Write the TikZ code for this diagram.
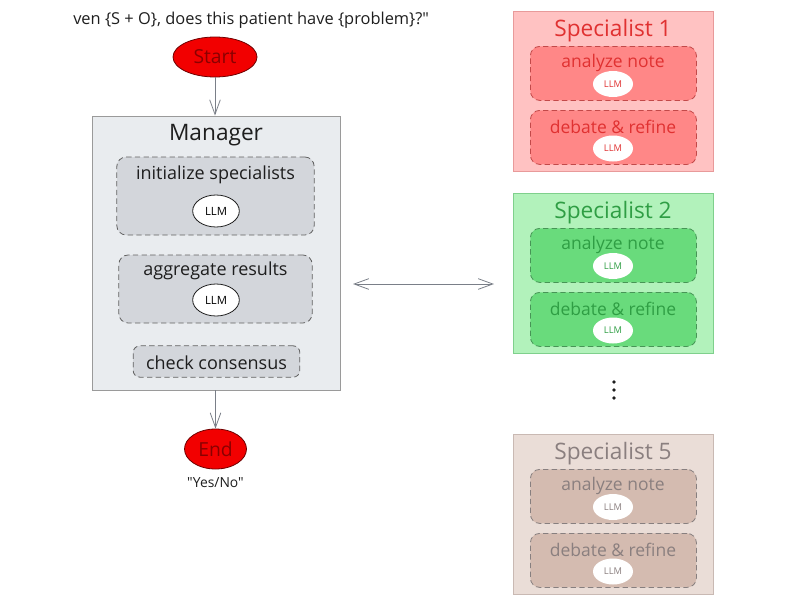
\documentclass[tikz,border=0pt]{standalone}
\usepackage{fontspec}
\setmainfont{Open Sans}[Ligatures=TeXOff]
\usetikzlibrary{arrows.meta,shapes.geometric}
\definecolor{mgrfill}{HTML}{E9ECEF}
\definecolor{mgrdraw}{HTML}{9A9A9A}
\definecolor{mgrin}{HTML}{D3D6DB}
\definecolor{txtdark}{HTML}{1E1E1E}
\definecolor{sAout}{HTML}{FFC2C2}
\definecolor{sAoutd}{HTML}{E89A9A}
\definecolor{sAin}{HTML}{FF8787}
\definecolor{sAtxt}{HTML}{E03131}
\definecolor{sBout}{HTML}{B2F2BB}
\definecolor{sBoutd}{HTML}{7FD08C}
\definecolor{sBin}{HTML}{69DB7C}
\definecolor{sBtxt}{HTML}{2F9E44}
\definecolor{sCout}{HTML}{EADDD7}
\definecolor{sCoutd}{HTML}{C9B9B3}
\definecolor{sCin}{HTML}{D4BBB0}
\definecolor{sCtxt}{HTML}{8A7F7F}
\definecolor{termred}{HTML}{F20000}
\definecolor{termtxt}{HTML}{8A0000}
\definecolor{arrowgray}{HTML}{7A7F88}
\tikzset{
  px/.style={x=0.75pt,y=-0.75pt},
  term/.style={ellipse,draw=termtxt!80!black,line width=0.6pt,fill=termred,text=termtxt,font=\fontsize{14.5}{16}\selectfont,inner sep=0pt},
  outerbox/.style={draw,line width=0.7pt,inner sep=0pt},
  innerbox/.style={draw,dashed,dash pattern=on 4pt off 2.5pt,rounded corners=7pt,line width=0.6pt,inner sep=0pt},
  llm/.style={ellipse,draw=txtdark,fill=white,line width=0.6pt,inner sep=0pt,font=\fontsize{8.5}{10}\selectfont},
  sllm/.style={ellipse,fill=white,inner sep=0pt,font=\fontsize{7}{8}\selectfont},
  conn/.style={draw=arrowgray,line width=0.6pt,-{Straight Barb[length=11pt,width=8pt]}},
  ttl/.style={font=\fontsize{17}{19}\selectfont,inner sep=0pt},
  lbl/.style={font=\fontsize{13.5}{15}\selectfont,inner sep=0pt},
  slbl/.style={font=\fontsize{13.1}{15}\selectfont,inner sep=0pt},
}
\begin{document}
\begin{tikzpicture}[px]
\useasboundingbox (0,0) rectangle (800,600);
% question
\node[anchor=west,inner sep=0pt,font=\fontsize{12.3}{14}\selectfont,text=txtdark] (q) at (73,20) {ven \{S + O\}, does this patient have \{problem\}?"};
% start
\node[term,minimum width=63pt,minimum height=30pt] (start) at (215,57) {Start};
% manager
\node[outerbox,draw=mgrdraw,fill=mgrfill,minimum width=186pt,minimum height=205.5pt] (mgr) at (216,253) {};
\node[ttl,text=txtdark] (mgrt) at (216,135.5) {Manager};
\node[innerbox,draw=txtdark!70,fill=mgrin,minimum width=148pt,minimum height=58.5pt] (m1) at (215.5,196) {};
\node[lbl,text=txtdark] (m1t) at (215.5,175) {initialize specialists};
\node[llm,minimum width=35pt,minimum height=24pt] (m1l) at (216,211) {LLM};
\node[innerbox,draw=txtdark!70,fill=mgrin,minimum width=145pt,minimum height=51pt] (m2) at (215.5,289) {};
\node[lbl,text=txtdark] (m2t) at (215.5,271) {aggregate results};
\node[llm,minimum width=35pt,minimum height=24pt] (m2l) at (216,300) {LLM};
\node[innerbox,draw=txtdark!70,fill=mgrin,minimum width=125pt,minimum height=23.5pt,rounded corners=5pt] (m3) at (216.5,361.5) {};
\node[lbl,text=txtdark] (m3t) at (216.5,362.5) {check consensus};
% end
\node[term,minimum width=46.5pt,minimum height=30pt] (end) at (215.5,449) {End};
\node[inner sep=0pt,font=\fontsize{10.4}{12}\selectfont,text=txtdark] (yn) at (215.5,483) {"Yes/No"};
% arrows
\draw[conn] (start) -- (mgr.north -| start);
\draw[conn] (mgr.south -| end) -- (end);
\coordinate (la) at (353,284);
\coordinate (ra) at (494,284);
\draw[conn,{Straight Barb[length=11pt,width=8pt]}-{Straight Barb[length=11pt,width=8pt]}] (la) -- (ra);
% specialist boxes
\foreach \nm/\yy/\num/\cout/\coutd/\cin/\ctxt in {sa/11/1/sAout/sAoutd/sAin/sAtxt, sb/193/2/sBout/sBoutd/sBin/sBtxt, sc/434/5/sCout/sCoutd/sCin/sCtxt}{
  \node[outerbox,draw=\coutd,fill=\cout,minimum width=150pt,minimum height=120pt,anchor=north west] (\nm) at (513,\yy) {};
  \node[ttl,text=\ctxt] (\nm t) at (613,\yy+19.5) {Specialist \num};
  \node[innerbox,draw=\ctxt!70!gray,fill=\cin,minimum width=124.5pt,minimum height=40.5pt,anchor=north west] (\nm a) at (530,\yy+35) {};
  \node[slbl,text=\ctxt] (\nm at) at (613,\yy+51.5) {analyze note};
  \node[sllm,text=\ctxt,minimum width=30pt,minimum height=19.5pt] (\nm al) at (613,\yy+73) {LLM};
  \node[innerbox,draw=\ctxt!70!gray,fill=\cin,minimum width=124.5pt,minimum height=40.5pt,anchor=north west] (\nm b) at (530,\yy+99) {};
  \node[slbl,text=\ctxt] (\nm bt) at (613,\yy+115.5) {debate \& refine};
  \node[sllm,text=\ctxt,minimum width=30pt,minimum height=19.5pt] (\nm bl) at (613,\yy+137.5) {LLM};
}
% dots
\foreach \dy in {382,390,398}{\fill[txtdark] (614,\dy) circle (1.4pt);}
\end{tikzpicture}
\end{document}
